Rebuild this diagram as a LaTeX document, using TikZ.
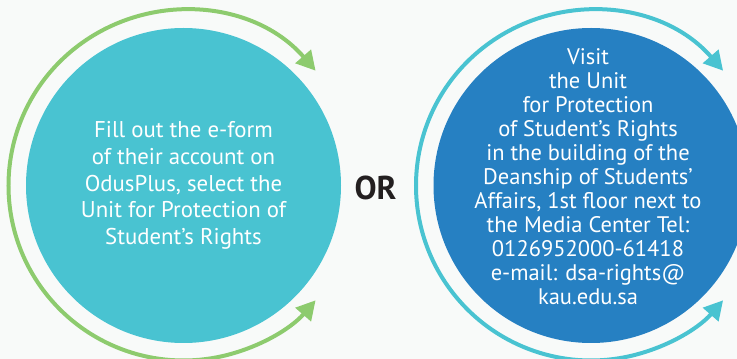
\documentclass[tikz,border=0pt]{standalone}
\usepackage{fontspec}
\setmainfont{PT Sans}
\usetikzlibrary{arrows.meta,calc}
\definecolor{bgc}{HTML}{F8FAF9}
\definecolor{cyanfill}{HTML}{49C3D1}
\definecolor{bluefill}{HTML}{2680C2}
\definecolor{greenarc}{HTML}{8DCB6E}
\definecolor{ortext}{HTML}{231F20}
\tikzset{
  bigcircle/.style={circle, minimum size=315pt, inner sep=0pt, text=white, align=center},
  ringarrow/.style={line width=4pt, {Triangle[length=19pt,width=20pt]}-{Triangle[length=19pt,width=20pt]}},
}
\begin{document}
\begin{tikzpicture}[x=1pt,y=1pt]
\fill[bgc] (0,0) rectangle (737,359);
\useasboundingbox (0,0) rectangle (737,359);
\node[bigcircle, fill=cyanfill, font=\fontsize{22.8}{26.7}\selectfont] (left) at (183.5,173.5)
  {Fill out the e-form\\of their account on\\OdusPlus, select the\\Unit for Protection of\\Student’s Rights};
\node[bigcircle, fill=bluefill] (right) at (591,173.5) {};
\node[text=white, align=center, font=\fontsize{22.5}{24}\selectfont] (righttext) at (588,182)
  {Visit\\the Unit\\for Protection\\of Student’s Rights\\in the building of the\\Deanship of Students’\\Affairs, 1st floor next to\\the Media Center Tel:\\0126952000-61418\\e-mail: dsa-rights@\\kau.edu.sa};
\node[text=ortext, font=\fontsize{33}{38}\selectfont\bfseries] (or) at (375.5,171) {OR};
\draw[ringarrow, greenarc] ($(left.center)+(41:175)$) arc[start angle=41, end angle=319, radius=175];
\draw[ringarrow, cyanfill] ($(right.center)+(41:175)$) arc[start angle=41, end angle=319, radius=175];
\end{tikzpicture}
\end{document}
